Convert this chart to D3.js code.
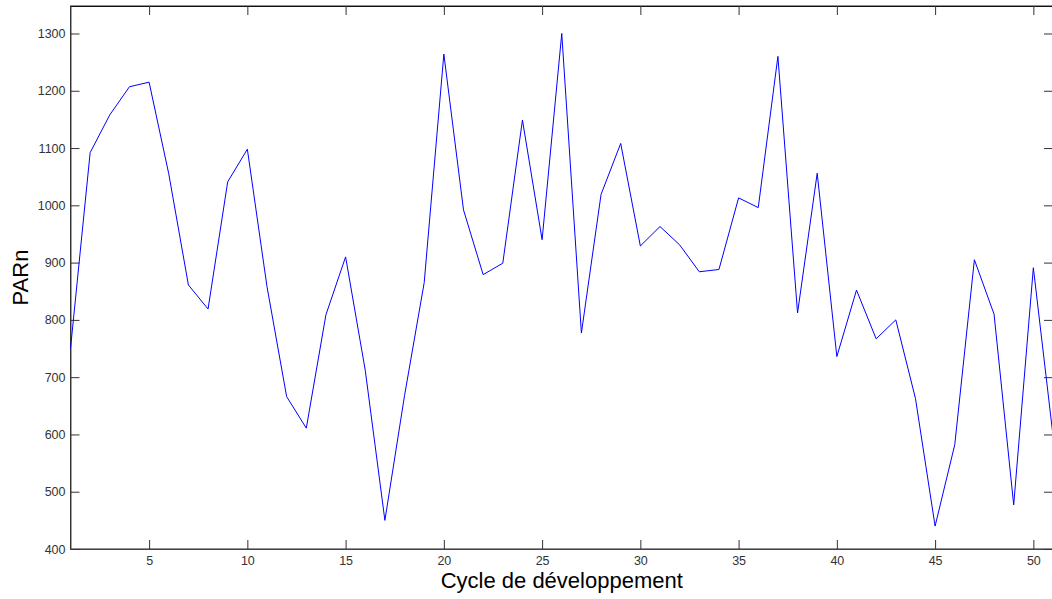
<!DOCTYPE html>
<html>
<head>
<meta charset="utf-8">
<script src="https://cdn.jsdelivr.net/npm/d3@7"></script>
<style>
  html, body { margin: 0; padding: 0; background: #fff; }
  svg { display: block; }
  text { font-family: "Liberation Sans", Arial, sans-serif; }
</style>
</head>
<body>
<svg id="chart" width="1052" height="599"></svg>
<script>
// Data
const cycles = d3.range(1, 52);
const parn = [750, 1092, 1158, 1207, 1215, 1055, 861, 819, 1041, 1098,
              858, 666, 611, 809, 910, 712, 450, 668, 865, 1264,
              992, 879, 899, 1149, 940, 1300, 777, 1019, 1108, 929,
              963, 931, 884, 888, 1013, 996, 1260, 812, 1056, 736,
              852, 767, 800, 663, 440, 582, 905, 810, 477, 891, 598];
const xTicks = [5, 10, 15, 20, 25, 30, 35, 40, 45, 50];
const yTicks = [400, 500, 600, 700, 800, 900, 1000, 1100, 1200, 1300];
const xDomain = [1, 51];
const yDomain = [400, 1348];
const xLabel = "Cycle de développement";
const yLabel = "PARn";

const svg = d3.select("#chart");
const mLeft = 70.5, mRight = 1053, mTop = 6, mBottom = 549;

const x = d3.scaleLinear().domain(xDomain).range([mLeft, mRight]);
const y = d3.scaleLinear().domain(yDomain).range([mBottom, mTop]);

// frame
svg.append("rect")
  .attr("x", x(xDomain[0])).attr("y", y(yDomain[1]))
  .attr("width", x(xDomain[1]) - x(xDomain[0]))
  .attr("height", y(yDomain[0]) - y(yDomain[1]))
  .attr("fill", "none").attr("stroke", "#222").attr("stroke-width", 1);

const tickLen = 9;
const fmt = d3.format("d");
function styleAxis(g) {
  g.select(".domain").attr("stroke", "#444");
  g.selectAll(".tick line").attr("stroke", "#333");
  g.selectAll(".tick text").attr("fill", "#333")
    .style("font-family", "'Liberation Sans', Arial, sans-serif")
    .style("font-size", "12.5px");
}

// bottom axis
svg.append("g").attr("transform", `translate(0,${mBottom})`)
  .call(d3.axisBottom(x).tickValues(xTicks).tickFormat(fmt).tickSizeInner(-tickLen).tickSizeOuter(0).tickPadding(7))
  .call(styleAxis);
// top axis (ticks only)
svg.append("g").attr("transform", `translate(0,${mTop})`)
  .call(d3.axisTop(x).tickValues(xTicks).tickSizeInner(-tickLen).tickSizeOuter(0).tickFormat(""))
  .call(styleAxis)
  .call(g => g.select(".domain").attr("stroke", "#111"));
// left axis
svg.append("g").attr("transform", `translate(${mLeft},0)`)
  .call(d3.axisLeft(y).tickValues(yTicks).tickFormat(fmt).tickSizeInner(-tickLen).tickSizeOuter(0).tickPadding(5))
  .call(styleAxis);
// right axis (ticks only)
svg.append("g").attr("transform", `translate(${mRight},0)`)
  .call(d3.axisRight(y).tickValues(yTicks).tickSizeInner(-tickLen).tickSizeOuter(0).tickFormat(""))
  .call(styleAxis);

// line
const line = d3.line().x((d, i) => x(cycles[i])).y(d => y(d));
svg.append("path").datum(parn)
  .attr("d", line)
  .attr("fill", "none").attr("stroke", "#0000ff").attr("stroke-width", 1);

// labels
svg.append("text")
  .attr("x", (mLeft + mRight) / 2).attr("y", 588)
  .attr("text-anchor", "middle")
  .style("font-size", "22px").attr("fill", "#000")
  .text(xLabel);
svg.append("text")
  .attr("transform", `translate(28,${(mTop + mBottom) / 2}) rotate(-90)`)
  .attr("text-anchor", "middle")
  .style("font-size", "22px").attr("fill", "#000")
  .text(yLabel);
</script>
</body>
</html>
